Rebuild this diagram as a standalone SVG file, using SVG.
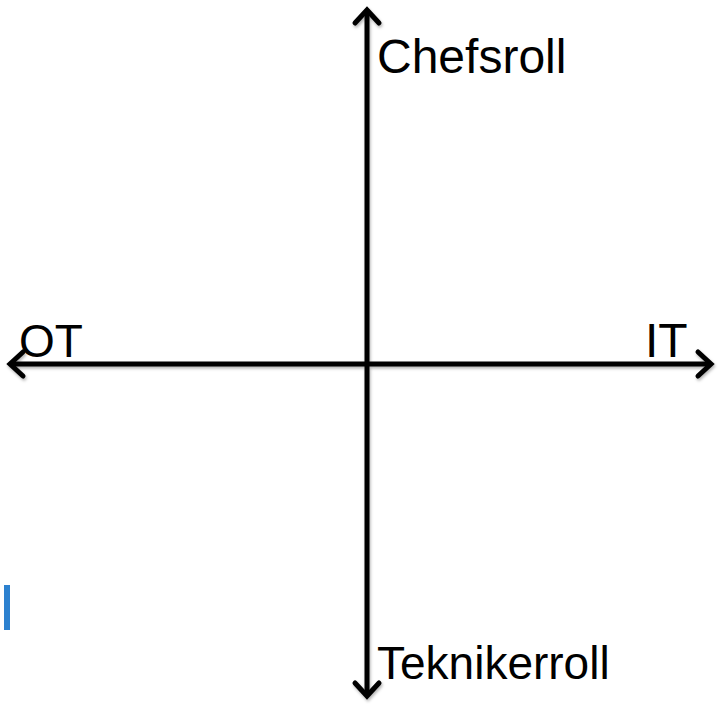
<svg xmlns="http://www.w3.org/2000/svg" width="721" height="707" viewBox="0 0 721 707">
  <style>
    .lbl { font-family: "Liberation Sans", Arial, sans-serif; font-size: 46px; fill: #000; }
    .axis { stroke: #000; stroke-width: 5; fill: none; stroke-linecap: butt; }
    .head { stroke: #000; stroke-width: 5; fill: none; stroke-linecap: round; stroke-linejoin: miter; }
  </style>
  <defs>
    <filter id="sh" x="-10%" y="-10%" width="120%" height="120%">
      <feDropShadow dx="1" dy="2" stdDeviation="1.8" flood-color="#000" flood-opacity="0.3"/>
    </filter>
  </defs>
  <rect width="721" height="707" fill="#fff"/>
  <g id="connectors" filter="url(#sh)">
    <line class="axis" x1="367" y1="10" x2="367" y2="696"/>
    <line class="axis" x1="10" y1="364" x2="711" y2="364"/>
    <path class="head" d="M355,23 L367,10 L379,23"/>
    <path class="head" d="M355,683 L367,696 L379,683"/>
    <path class="head" d="M23,352 L10,364 L23,376"/>
    <path class="head" d="M698,352 L711,364 L698,376"/>
  </g>
  <g id="node-chefsroll"><text class="lbl" x="377" y="73" style="font-size:48px">Chefsroll</text></g>
  <g id="node-teknikerroll"><text class="lbl" x="377" y="679">Teknikerroll</text></g>
  <g id="node-ot"><text class="lbl" x="19" y="357">OT</text></g>
  <g id="node-it"><text class="lbl" x="645" y="357" style="font-size:48px">IT</text></g>
  <rect x="4" y="585" width="6" height="45" fill="#2C81CF"/>
</svg>
